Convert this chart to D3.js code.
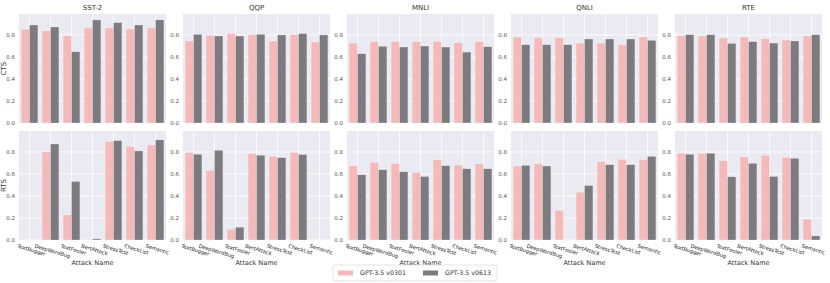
<!DOCTYPE html>
<html>
<head>
<meta charset="utf-8">
<script src="https://cdn.jsdelivr.net/npm/d3@7"></script>
<style>
  body { margin: 0; background: #fff; }
  text { font-family: "DejaVu Sans", sans-serif; }
</style>
</head>
<body>
<svg id="chart" width="830" height="283"></svg>
<script>
// data
const datasets = ["SST-2", "QQP", "MNLI", "QNLI", "RTE"];
const attacks = ["TextBugger", "DeepWordBug", "TextFooler", "BertAttack", "StressTest", "CheckList", "Semantic"];
const seriesNames = ["GPT-3.5 v0301", "GPT-3.5 v0613"];
const yTicks = [0, 0.2, 0.4, 0.6, 0.8];

// CTS, one row per dataset
const ctsV0301 = [
  [0.851, 0.836, 0.793, 0.863, 0.863, 0.854, 0.863],
  [0.745, 0.796, 0.811, 0.802, 0.745, 0.802, 0.736],
  [0.726, 0.739, 0.739, 0.739, 0.739, 0.729, 0.739],
  [0.781, 0.775, 0.775, 0.726, 0.726, 0.711, 0.781],
  [0.793, 0.790, 0.772, 0.781, 0.766, 0.754, 0.790]
];
const ctsV0613 = [
  [0.890, 0.872, 0.647, 0.936, 0.912, 0.890, 0.936],
  [0.805, 0.790, 0.790, 0.805, 0.800, 0.812, 0.800],
  [0.629, 0.696, 0.690, 0.699, 0.690, 0.644, 0.693],
  [0.711, 0.711, 0.711, 0.763, 0.763, 0.763, 0.751],
  [0.802, 0.802, 0.723, 0.739, 0.726, 0.745, 0.802]
];
// RTS, one row per dataset
const rtsV0301 = [
  [0.000, 0.800, 0.228, 0.003, 0.894, 0.851, 0.863],
  [0.794, 0.632, 0.098, 0.785, 0.760, 0.794, 0.000],
  [0.675, 0.705, 0.696, 0.611, 0.727, 0.681, 0.693],
  [0.672, 0.693, 0.269, 0.434, 0.711, 0.733, 0.730],
  [0.788, 0.788, 0.721, 0.754, 0.770, 0.751, 0.189]
];
const rtsV0613 = [
  [0.000, 0.872, 0.532, 0.010, 0.903, 0.809, 0.909],
  [0.779, 0.815, 0.116, 0.770, 0.748, 0.776, 0.000],
  [0.592, 0.638, 0.620, 0.577, 0.675, 0.647, 0.647],
  [0.678, 0.672, 0.000, 0.495, 0.684, 0.684, 0.760],
  [0.779, 0.788, 0.574, 0.696, 0.577, 0.742, 0.037]
];

const colors = ["#f4b9b9", "#7e7b80"];
const rows = [
  { label: "CTS", top: 14, data: [ctsV0301, ctsV0613] },
  { label: "RTS", top: 131, data: [rtsV0301, rtsV0613] }
];

const svg = d3.select("#chart");
const panelW = 147, panelH = 109, left0 = 19, step = 164;

const x = d3.scaleBand().domain(attacks).range([0, panelW]).padding(0);
const hue = d3.scaleBand().domain(seriesNames).range([x.bandwidth() * 0.1, x.bandwidth() * 0.9]);
const y = d3.scaleLinear().domain([0, 0.99]).range([panelH, 0]);

rows.forEach((row, r) => {
  datasets.forEach((ds, d) => {
    const g = svg.append("g").attr("transform", `translate(${left0 + d * step},${row.top})`);

    g.append("rect").attr("width", panelW).attr("height", panelH).attr("fill", "#eaeaf2");

    // grid
    g.selectAll(".hg").data(yTicks).join("line")
      .attr("x1", 0).attr("x2", panelW)
      .attr("y1", v => y(v)).attr("y2", v => y(v))
      .attr("stroke", "#fff").attr("stroke-width", 0.8);
    g.selectAll(".vg").data(attacks).join("line")
      .attr("x1", a => x(a) + x.bandwidth() / 2).attr("x2", a => x(a) + x.bandwidth() / 2)
      .attr("y1", 0).attr("y2", panelH)
      .attr("stroke", "#fff").attr("stroke-width", 0.8);

    // bars
    seriesNames.forEach((s, si) => {
      const vals = row.data[si][d];
      g.append("g").selectAll("rect").data(attacks).join("rect")
        .attr("x", (a) => x(a) + hue(s))
        .attr("width", hue.bandwidth())
        .attr("y", (a, i) => y(vals[i]))
        .attr("height", (a, i) => panelH - y(vals[i]))
        .attr("fill", colors[si])
        .attr("stroke", "#fff").attr("stroke-opacity", 0.5).attr("stroke-width", 0.5);
    });

    // y tick labels
    g.selectAll(".yt").data(yTicks).join("text")
      .attr("x", -4).attr("y", v => y(v)).attr("dy", "0.35em")
      .attr("text-anchor", "end").attr("font-size", 5.5).attr("fill", "#555")
      .text(v => v.toFixed(1));

    if (r === 0) {
      g.append("text").attr("x", panelW / 2).attr("y", -4)
        .attr("text-anchor", "middle").attr("font-size", 7).attr("fill", "#333")
        .text(ds);
    } else {
      // rotated category labels
      const ang = 17, rad = ang * Math.PI / 180, fs = 5.2;
      g.selectAll(".xt").data(attacks).join("text")
        .attr("font-size", fs).attr("fill", "#222")
        .attr("text-anchor", "middle").attr("dominant-baseline", "central")
        .text(a => a)
        .each(function(a) {
          const len = this.getComputedTextLength();
          const cx = x(a) + x.bandwidth() / 2 + 2;
          const cy = panelH + 3 + (len * Math.sin(rad) + fs * Math.cos(rad)) / 2;
          d3.select(this).attr("transform", `translate(${cx},${cy}) rotate(${ang})`);
        });
      g.append("text").attr("x", panelW / 2).attr("y", panelH + 25)
        .attr("text-anchor", "middle").attr("font-size", 6.5).attr("fill", "#333")
        .text("Attack Name");
    }

    if (d === 0) {
      g.append("text")
        .attr("transform", `translate(-13,${panelH / 2}) rotate(-90)`)
        .attr("text-anchor", "middle").attr("font-size", 7).attr("fill", "#333")
        .text(row.label);
    }
  });
});

// legend
const lg = svg.append("g").attr("transform", "translate(333,265)");
lg.append("rect").attr("width", 164).attr("height", 16).attr("rx", 2)
  .attr("fill", "#fff").attr("stroke", "#ddd").attr("stroke-width", 0.8);
const legendX = d3.scalePoint().domain(seriesNames).range([5, 90]);
seriesNames.forEach((s, i) => {
  lg.append("rect").attr("x", legendX(s)).attr("y", 5.5).attr("width", 15).attr("height", 5)
    .attr("fill", colors[i]);
  lg.append("text").attr("x", legendX(s) + 22).attr("y", 8).attr("dy", "0.35em")
    .attr("font-size", 6.3).attr("fill", "#333").text(s);
});
</script>
</body>
</html>
